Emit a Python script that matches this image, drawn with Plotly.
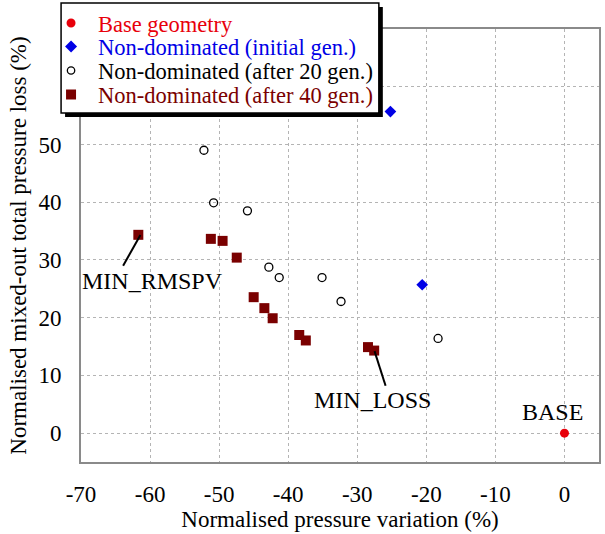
import plotly.graph_objects as go

# ---------------- data ----------------
base_x = [0.0]
base_y = [0.0]

init_x = [-25.2, -20.6]
init_y = [55.7, 25.7]

gen20_x = [-52.2, -50.8, -45.9, -42.8, -41.3, -35.1, -32.35, -18.3]
gen20_y = [49.0, 39.9, 38.5, 28.75, 26.95, 26.95, 22.8, 16.4]

gen40_x = [-61.7, -51.2, -49.5, -47.45, -45.0, -43.45, -42.25, -38.4, -37.45, -28.45, -27.55]
gen40_y = [34.35, 33.65, 33.3, 30.4, 23.55, 21.65, 19.9, 17.0, 16.05, 14.9, 14.3]

series_names = ["Base geometry", "Non-dominated (initial gen.)",
                "Non-dominated (after 20 gen.)", "Non-dominated (after 40 gen.)"]
series_colors = ["#e8000b", "#0000e6", "#000000", "#7a0000"]

# point labels: text, label position, leader line (from -> to)
label_texts = ["MIN_RMSPV", "MIN_LOSS", "BASE"]
label_x = [-59.6, -27.85, -1.7]
label_y = [26.3, 5.7, 3.6]
leader_x0 = [-61.4, -27.5, None]
leader_y0 = [34.3, 14.2, None]
leader_x1 = [-63.9, -25.9, None]
leader_y1 = [29.0, 8.2, None]

x_ticks = [-70, -60, -50, -40, -30, -20, -10, 0]
x_ticktext = ["-70", "-60", "-50", "-40", "-30", "-20", "-10", "0"]
y_ticks = [0, 10, 20, 30, 40, 50, 60]
y_ticktext = ["0", "10", "20", "30", "40", "50", ""]

FONT = "Liberation Serif, Times New Roman, serif"

fig = go.Figure()
fig.add_trace(go.Scatter(x=base_x, y=base_y, mode="markers", name=series_names[0],
                         marker=dict(symbol="circle", size=9, color=series_colors[0])))
fig.add_trace(go.Scatter(x=init_x, y=init_y, mode="markers", name=series_names[1],
                         marker=dict(symbol="diamond", size=9, color=series_colors[1])))
fig.add_trace(go.Scatter(x=gen20_x, y=gen20_y, mode="markers", name=series_names[2],
                         marker=dict(symbol="circle-open", size=8, color=series_colors[2],
                                     line=dict(width=1.3, color=series_colors[2]))))
fig.add_trace(go.Scatter(x=gen40_x, y=gen40_y, mode="markers", name=series_names[3],
                         marker=dict(symbol="square", size=10, color=series_colors[3],
                                     line=dict(width=0))))

# labels and leader lines
for t, lx, ly, x0, y0, x1, y1 in zip(label_texts, label_x, label_y,
                                     leader_x0, leader_y0, leader_x1, leader_y1):
    fig.add_annotation(x=lx, y=ly, text=t, showarrow=False, xref="x", yref="y",
                       font=dict(family=FONT, size=24, color="black"))
    if x0 is not None:
        fig.add_shape(type="line", xref="x", yref="y", x0=x0, y0=y0, x1=x1, y1=y1,
                      line=dict(color="black", width=2))

# -------- manual legend (pixel geometry converted to paper) --------
L, T, W, H = 81, 29, 520, 433  # plot area in pixels


def px(p):
    return (p - L) / W


def py(p):
    return (T + H - p) / H


box = dict(l=61, t=3, r=380, b=113)
sh = 4
fig.add_shape(type="rect", xref="paper", yref="paper",
              x0=px(box["l"] + sh), x1=px(box["r"] + sh),
              y0=py(box["t"] + sh), y1=py(box["b"] + sh),
              fillcolor="black", line=dict(width=0), layer="above")
fig.add_shape(type="rect", xref="paper", yref="paper",
              x0=px(box["l"]), x1=px(box["r"]), y0=py(box["t"]), y1=py(box["b"]),
              fillcolor="white", line=dict(color="black", width=1.5), layer="above")

row_y = [23, 46.5, 70.5, 94.5]
mx = 71
for i, (name, col) in enumerate(zip(series_names, series_colors)):
    yy = py(row_y[i])
    if i == 0:
        fig.add_shape(type="circle", xref="paper", yref="paper", xsizemode="pixel",
                      ysizemode="pixel", xanchor=px(mx), yanchor=yy,
                      x0=-4.5, x1=4.5, y0=-4.5, y1=4.5, fillcolor=col,
                      line=dict(width=0), layer="above")
    elif i == 1:
        fig.add_shape(type="path", xref="paper", yref="paper", xsizemode="pixel",
                      ysizemode="pixel", xanchor=px(mx), yanchor=yy,
                      path="M -6 0 L 0 6 L 6 0 L 0 -6 Z", fillcolor=col,
                      line=dict(width=0), layer="above")
    elif i == 2:
        fig.add_shape(type="circle", xref="paper", yref="paper", xsizemode="pixel",
                      ysizemode="pixel", xanchor=px(mx), yanchor=yy,
                      x0=-3.7, x1=3.7, y0=-3.7, y1=3.7, fillcolor="white",
                      line=dict(width=1.3, color=col), layer="above")
    else:
        fig.add_shape(type="rect", xref="paper", yref="paper", xsizemode="pixel",
                      ysizemode="pixel", xanchor=px(mx), yanchor=yy,
                      x0=-5, x1=5, y0=-5, y1=5, fillcolor=col,
                      line=dict(width=0), layer="above")
    fig.add_annotation(xref="paper", yref="paper", x=px(96), y=py(row_y[i] + 1),
                       xanchor="left", yanchor="middle", text=name, showarrow=False,
                       font=dict(family=FONT, size=22.5, color=col))

axis_common = dict(showline=True, linecolor="#8a8a8a", linewidth=2, mirror=True,
                   showgrid=True, gridcolor="#b4b4b4", gridwidth=1.3, griddash="dot",
                   zeroline=False, ticks="", tickfont=dict(family=FONT, size=23, color="black"))

fig.update_layout(
    width=605, height=534,
    margin=dict(l=L, r=605 - L - W, t=T, b=534 - T - H),
    paper_bgcolor="white", plot_bgcolor="white",
    showlegend=False,
    font=dict(family=FONT, size=23, color="black"),
    xaxis=dict(range=[-70, 5], tickvals=x_ticks, ticktext=x_ticktext, ticklabelstandoff=10,
               title=dict(text="Normalised pressure variation (%)",
                          font=dict(family=FONT, size=23), standoff=5),
               **axis_common),
    yaxis=dict(range=[-5, 70], tickvals=y_ticks, ticktext=y_ticktext, ticklabelstandoff=13,
               title=dict(text="Normalised mixed-out total pressure loss (%)",
                          font=dict(family=FONT, size=23), standoff=5),
               **axis_common),
)

fig.write_html("out.html")
